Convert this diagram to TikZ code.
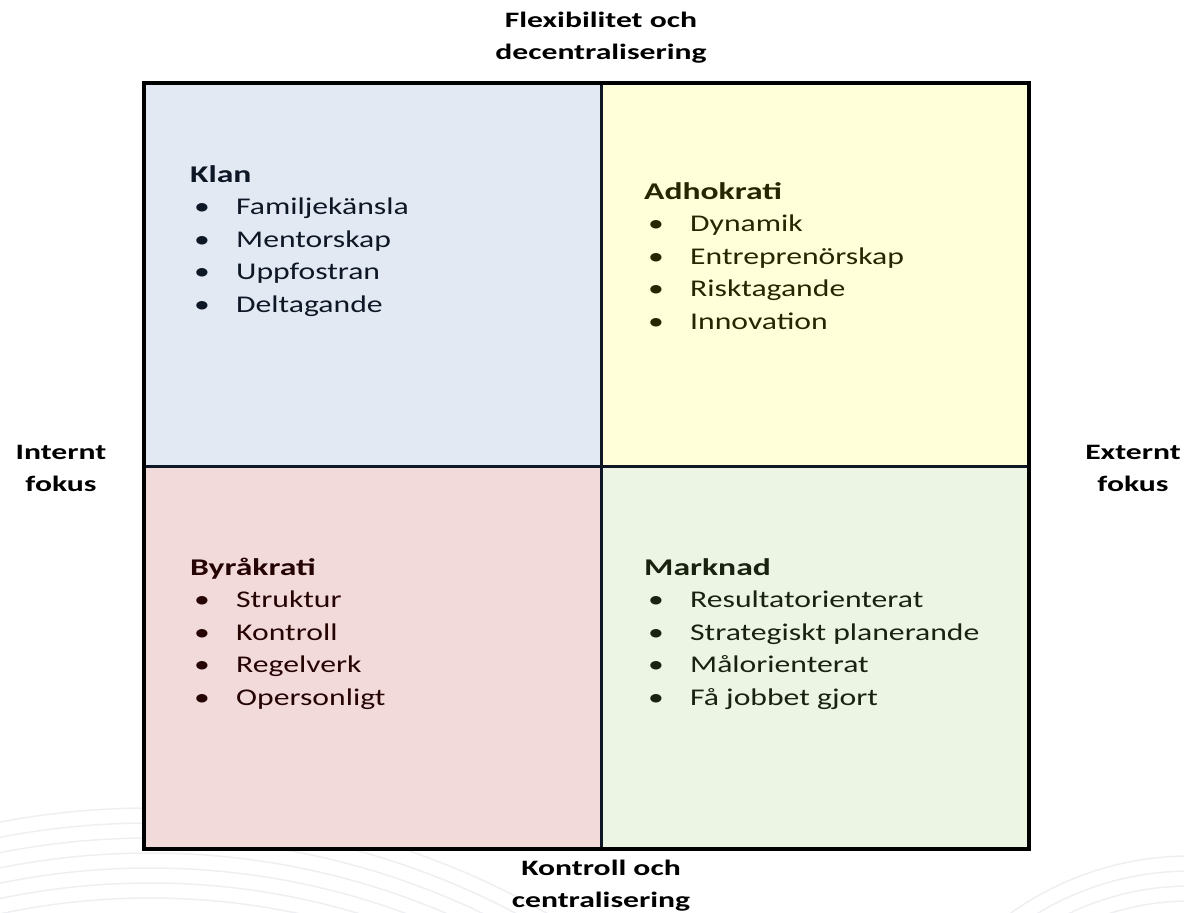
\documentclass[tikz,border=0pt]{standalone}
\usepackage{fontspec}
\setmainfont[FakeStretch=1.32, BoldFeatures={FakeStretch=1.4}]{Carlito}
\newfontfamily\axisfont[FakeStretch=1.44]{Carlito}
\usetikzlibrary{positioning, calc}

\definecolor{klanfill}{HTML}{E2E9F3}
\definecolor{adhofill}{HTML}{FFFFD9}
\definecolor{byrafill}{HTML}{F2DADB}
\definecolor{markfill}{HTML}{ECF4E3}
\definecolor{klanline}{HTML}{0E1726}
\definecolor{adholine}{HTML}{262600}
\definecolor{byraline}{HTML}{260404}
\definecolor{markline}{HTML}{18220F}
\definecolor{swirl}{HTML}{EDEFF2}

\newcommand{\itm}[1]{\hspace*{4pt}\makebox[42pt][l]{\textbullet}#1}

\begin{document}
\begin{tikzpicture}
            [x=1pt, y=-1pt, node distance=0pt,
            font=\fontsize{24}{32.5}\selectfont,
            quadrant/.style={rectangle, inner sep=0pt, outer sep=0pt, minimum height=383pt},
            itemlist/.style={align=left, anchor=base west, inner sep=0pt},
            axislabel/.style={align=center, inner sep=0pt, font=\axisfont\bfseries\fontsize{22}{32}\selectfont}]

            \useasboundingbox (0,0) rectangle (1184,913);

            % faint background arcs
            \begin{scope}
              \clip (0,0) rectangle (1184,913);
              \foreach \r in {710,725,...,800}
                \draw[swirl, line width=1.5pt] (150,1608) circle (\r);
              \foreach \r in {250,265,...,310}
                \draw[swirl, line width=1.5pt] (1190,1166) circle (\r);
            \end{scope}

            \node[quadrant, fill=klanfill, minimum width=457pt, anchor=north west] (klan) at (144,83) {};
            \node[quadrant, fill=adhofill, minimum width=428pt] (adho) [right = of klan] {};
            \node[quadrant, fill=byrafill, minimum width=457pt] (byra) [below = of klan] {};
            \node[quadrant, fill=markfill, minimum width=428pt] (mark) [below = of adho] {};

            % dividers and frame
            \draw[line width=3pt, klanline] (klan.north east) -- (mark.south west);
            \draw[line width=3pt, klanline] (klan.south west) -- (mark.north east);
            \draw[line width=3.5pt] (klan.north west) rectangle (mark.south east);

            % base anchor = baseline of the last line
            \node[itemlist, text=klanline] (klantext) at ($(klan.north west)+(46,229)$)
              {\textbf{Klan}\\ \itm{Familjekänsla}\\ \itm{Mentorskap}\\ \itm{Uppfostran}\\ \itm{Deltagande}};
            \node[itemlist, text=adholine] (adhotext) at ($(adho.north west)+(43,246)$)
              {\textbf{Adhokrati}\\ \itm{Dynamik}\\ \itm{Entreprenörskap}\\ \itm{Risktagande}\\ \itm{Innovation}};
            \node[itemlist, text=byraline] (byratext) at ($(byra.north west)+(46,239)$)
              {\textbf{Byråkrati}\\ \itm{Struktur}\\ \itm{Kontroll}\\ \itm{Regelverk}\\ \itm{Opersonligt}};
            \node[itemlist, text=markline] (marktext) at ($(mark.north west)+(43,239)$)
              {\textbf{Marknad}\\ \itm{Resultatorienterat}\\ \itm{Strategiskt planerande}\\ \itm{Målorienterat}\\ \itm{Få jobbet gjort}};

            \node[axislabel] (flex) at (601,38) {Flexibilitet och\\decentralisering};
            \node[axislabel] (kontroll) at (601,886) {Kontroll och\\centralisering};
            \node[axislabel] (internt) at (61,468) {Internt\\fokus};
            \node[axislabel] (externt) at (1133,468) {Externt\\fokus};

          \end{tikzpicture}
\end{document}
